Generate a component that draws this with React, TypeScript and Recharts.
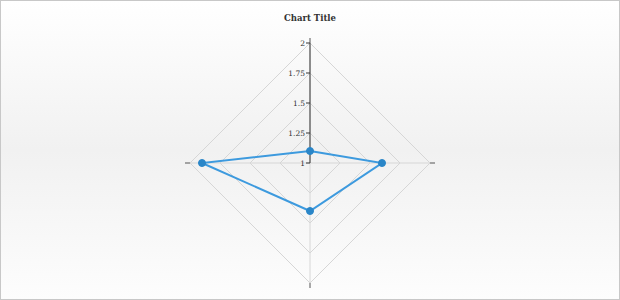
import React from 'react';
import { RadarChart, Radar, PolarGrid, PolarAngleAxis, PolarRadiusAxis } from 'recharts';

const categories = ['North', 'East', 'South', 'West'];
const seriesValues = [1.1, 1.6, 1.4, 1.9];
const majorTicks = [1, 1.25, 1.5, 1.75, 2];
const minorTicks = [
  1.0625, 1.125, 1.1875,
  1.3125, 1.375, 1.4375,
  1.5625, 1.625, 1.6875,
  1.8125, 1.875, 1.9375,
];
const tickLabels = ['1', '1.25', '1.5', '1.75', '2'];

const data = categories.map((name, i) => ({ name, value: seriesValues[i] }));

const FONT = '"DejaVu Serif", "Liberation Serif", serif';

const MajorTick = (props: any) => {
  const { x, y, payload, index } = props;
  return (
    <g>
      <line x1={x - 4} y1={y} x2={x} y2={y} stroke="#333" strokeWidth={1} />
      <text x={x - 5} y={y} dy={3} textAnchor="end" fontSize={7.5} fill="#333" fontFamily={FONT}>
        {tickLabels[index] ?? String(payload.value)}
      </text>
    </g>
  );
};

const MinorTick = (props: any) => {
  const { x, y } = props;
  return <line x1={x - 2} y1={y} x2={x} y2={y} stroke="#444" strokeWidth={1} />;
};

const Dot = (props: any) => {
  const { cx, cy, index } = props;
  return <circle key={`dot-${index}`} cx={cx} cy={cy} r={3.5} fill="#2a86c8" stroke="#2a86c8" strokeWidth={1} />;
};

export default function App() {
  return (
    <div
      style={{
        position: 'relative',
        width: 620,
        height: 300,
        boxSizing: 'border-box',
        border: '1px solid #c8c8c8',
        background: 'linear-gradient(to bottom, #ffffff 0%, #f1f1f1 50%, #fdfdfd 100%)',
        overflow: 'hidden',
      }}
    >
      <style>{'body{margin:0}'}</style>
      <div
        style={{
          position: 'absolute',
          top: 12,
          left: 0,
          width: 618,
          textAlign: 'center',
          fontFamily: FONT,
          fontWeight: 'bold',
          fontSize: 8.5,
          color: '#333',
        }}
      >
        Chart Title
      </div>
      <RadarChart width={618} height={298} data={data} cx={309} cy={162} outerRadius={120} startAngle={90} endAngle={-270}>
        <PolarGrid gridType="polygon" stroke="#d6d6d6" />
        <PolarAngleAxis dataKey="name" tick={false} tickLine={{ stroke: '#555' }} tickSize={5} axisLine={false} />
        <PolarRadiusAxis
          radiusAxisId="minor"
          angle={90}
          domain={[1, 2]}
          ticks={minorTicks}
          tick={<MinorTick />}
          axisLine={false}
          tickLine={false}
        />
        <PolarRadiusAxis
          angle={90}
          domain={[1, 2]}
          ticks={majorTicks}
          tick={<MajorTick />}
          axisLine={{ stroke: '#333' }}
          tickLine={false}
        />
        <Radar
          dataKey="value"
          stroke="#3d9ade"
          strokeWidth={2}
          fill="none"
          fillOpacity={0}
          dot={Dot}
          isAnimationActive={false}
        />
      </RadarChart>
    </div>
  );
}
